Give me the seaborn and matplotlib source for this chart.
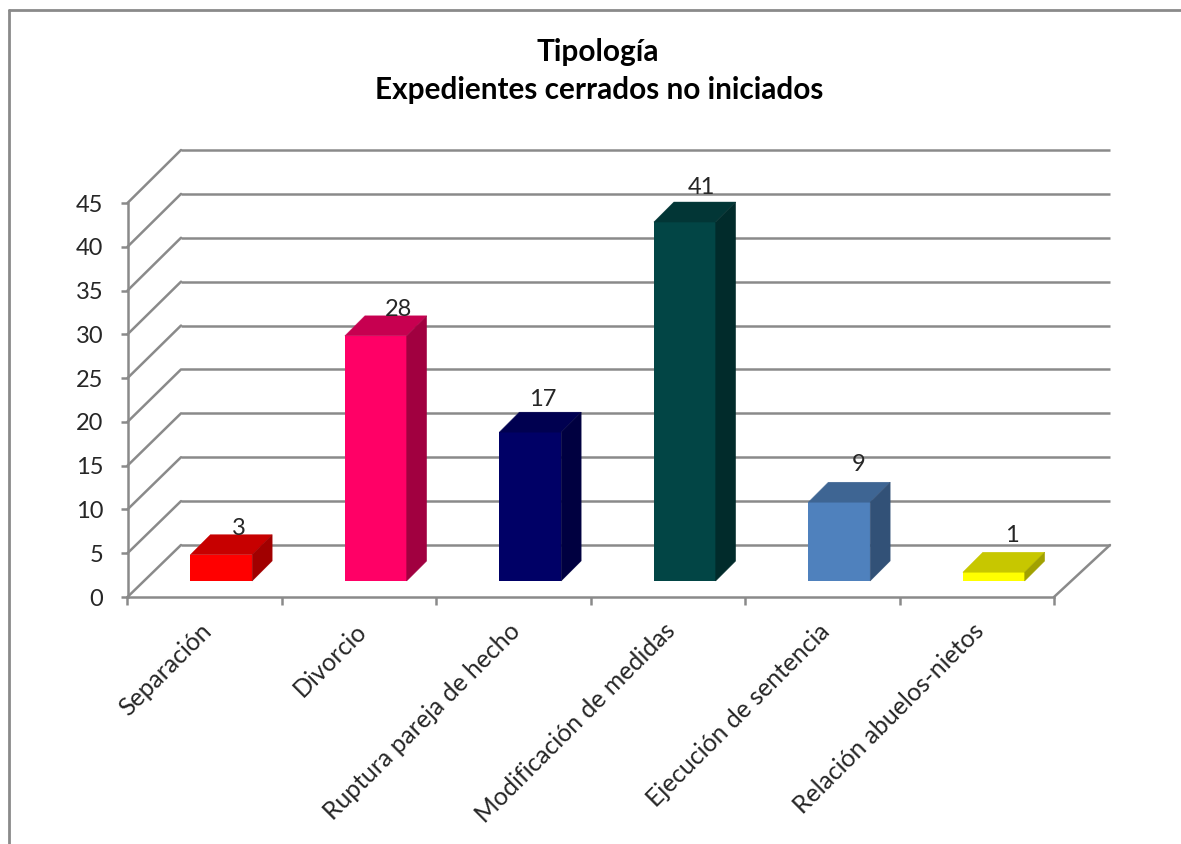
import numpy as np
import pandas as pd
import matplotlib
matplotlib.use('Agg')
import matplotlib.pyplot as plt
from matplotlib.colors import to_rgb
from matplotlib.lines import Line2D
from matplotlib.patches import Polygon
from matplotlib.transforms import IdentityTransform, ScaledTranslation
import seaborn as sns

# data
categorias = ['Separación', 'Divorcio', 'Ruptura pareja de hecho',
              'Modificación de medidas', 'Ejecución de sentencia', 'Relación abuelos-nietos']
valores = [3, 28, 17, 41, 9, 1]
colores = ['#FF0000', '#FF0066', '#000066', '#024545', '#4F81BD', '#FFFF00']
y_ticks = [0, 5, 10, 15, 20, 25, 30, 35, 40, 45]

# nudges for the value labels, in pixels
label_dx = [18, 23, 12, 17, 19, 18]
label_dy = [20, 20, 26, 28, 31, 30]

W, H = 1181, 844
GRIS = '#8A8A8A'
TEXTO = '#262626'
LW = 1.8
PROF = 20  # bar depth in px

sns.set_style('white')
plt.rcParams['font.family'] = ['Lato', 'DejaVu Sans']


def caja(x0, x1, y_top, y_bot):
    # pixel box (image coords, y down) to figure fractions
    return [x0 / W, 1 - y_bot / H, (x1 - x0) / W, (y_bot - y_top) / H]


fig = plt.figure(figsize=(W / 100, H / 100), dpi=100, facecolor='white')

# back wall, front plane and bar plane share the same scales
ax_wall = fig.add_axes(caja(181, 1110, 150, 545))
ax = fig.add_axes(caja(127.5, 1054, 203, 597))
ax_bars = fig.add_axes(caja(144, 1071, 187, 581))
for a in (ax_wall, ax, ax_bars):
    a.patch.set_alpha(0)
    a.set_xlim(-0.5, 5.5)
    a.set_ylim(0, 45)

ax_wall.hlines(y_ticks, -0.5, 5.5, color=GRIS, lw=LW, clip_on=False)
ax_wall.axis('off')

for s in ['top', 'right']:
    ax.spines[s].set_visible(False)
for s in ['left', 'bottom']:
    ax.spines[s].set_color(GRIS)
    ax.spines[s].set_linewidth(LW)
ax.set_yticks(y_ticks)
ax.tick_params(axis='y', length=5, width=LW, color=GRIS, labelsize=17,
               labelcolor=TEXTO, pad=12.5, left=True)
ax.set_xticks(np.arange(6))
ax.set_xticklabels(categorias, rotation=45, ha='right', rotation_mode='anchor', fontsize=17.8, color=TEXTO)
ax.tick_params(axis='x', which='major', length=0, pad=16)
ax.set_xticks(np.arange(-0.5, 6), minor=True)
ax.tick_params(axis='x', which='minor', length=6, width=LW, color=GRIS, bottom=True)
desplaza = ScaledTranslation(-5 / 100, 0, fig.dpi_scale_trans)
for lab in ax.get_xticklabels():
    lab.set_transform(lab.get_transform() + desplaza)

# side wall and floor diagonals
for v in y_ticks:
    a0 = ax.transData.transform((-0.5, v))
    a1 = ax_wall.transData.transform((-0.5, v))
    ax.add_line(Line2D([a0[0], a1[0]], [a0[1], a1[1]], transform=IdentityTransform(),
                       color=GRIS, lw=LW, clip_on=False))
a0 = ax.transData.transform((5.5, 0))
a1 = ax_wall.transData.transform((5.5, 0))
ax.add_line(Line2D([a0[0], a1[0]], [a0[1], a1[1]], transform=IdentityTransform(),
                   color=GRIS, lw=LW, clip_on=False))

# bars
df = pd.DataFrame({'categoria': categorias, 'valor': valores})
sns.barplot(data=df, x='categoria', y='valor', hue='categoria', palette=colores,
            width=0.4, dodge=False, legend=False, saturation=1, linewidth=0, ax=ax_bars)
ax_bars.set_xlim(-0.5, 5.5)
ax_bars.set_ylim(0, 45)
ax_bars.axis('off')

barras = [b for c in ax_bars.containers for b in c]
for i, b in enumerate(barras):
    (x0, y0), (x1, y1) = ax_bars.transData.transform(
        [(b.get_x(), b.get_y()), (b.get_x() + b.get_width(), b.get_y() + b.get_height())])
    base = np.array(to_rgb(colores[i]))
    ax_bars.add_patch(Polygon([(x0, y1), (x1, y1), (x1 + PROF, y1 + PROF), (x0 + PROF, y1 + PROF)],
                              transform=IdentityTransform(), fc=base * 0.78, ec=base * 0.78, lw=0.3, clip_on=False))
    ax_bars.add_patch(Polygon([(x1, y0), (x1, y1), (x1 + PROF, y1 + PROF), (x1 + PROF, y0 + PROF)],
                              transform=IdentityTransform(), fc=base * 0.63, ec=base * 0.63, lw=0.3, clip_on=False))
    ax_bars.annotate(str(valores[i]), (i, valores[i]), xytext=(label_dx[i] * 0.72, label_dy[i] * 0.72),
                     textcoords='offset points', ha='center', va='baseline', fontsize=17,
                     color=TEXTO, annotation_clip=False)

# title and chart frame
fig.text(598 / W, 1 - 52 / H, 'Tipología', ha='center', va='center',
         fontsize=21.4, fontweight='bold', color='black')
fig.text(599 / W, 1 - 90 / H, 'Expedientes cerrados no iniciados', ha='center', va='center',
         fontsize=21.4, fontweight='bold', color='black')
fig.add_artist(Line2D([9 / W, 9 / W], [0, 1 - 10 / H], color=GRIS, lw=2))
fig.add_artist(Line2D([9 / W, 1], [1 - 10 / H, 1 - 10 / H], color=GRIS, lw=2))

fig.savefig('out.png', dpi=100, facecolor='white')
